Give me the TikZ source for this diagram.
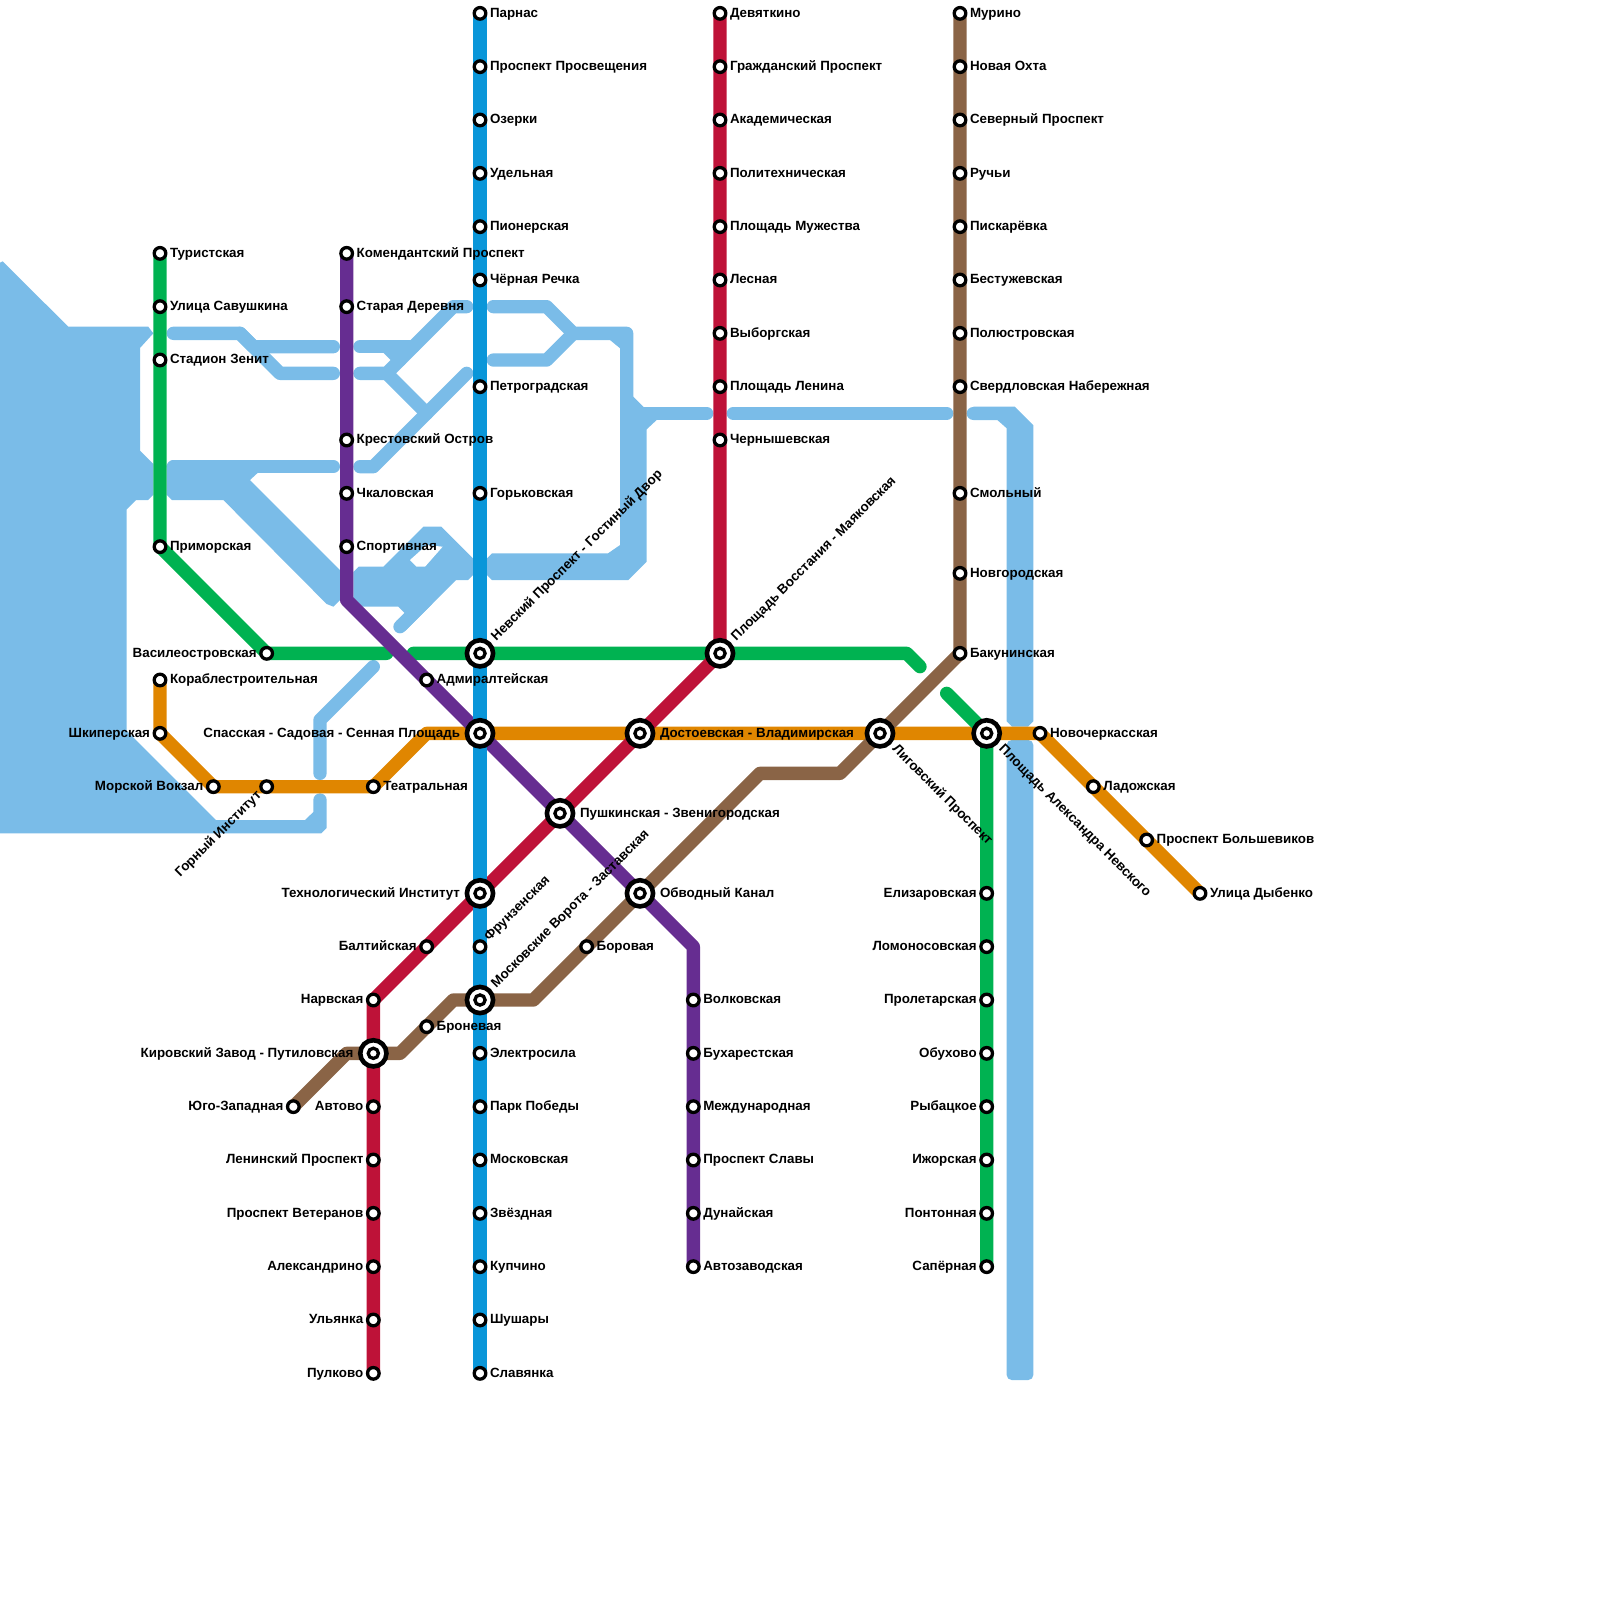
\documentclass[tikz,border=0pt]{standalone}
\usepackage{fontspec}
\setmainfont{Liberation Sans}
\usetikzlibrary{calc}
\pgfdeclarelayer{bg}
\pgfsetlayers{bg,main}
\definecolor{cwater}{HTML}{7ABCE8}
\definecolor{cblue}{HTML}{0A96D9}
\definecolor{cred}{HTML}{BE1238}
\definecolor{cbrown}{HTML}{8A6446}
\definecolor{cpurple}{HTML}{662D91}
\definecolor{cgreen}{HTML}{00B251}
\definecolor{corange}{HTML}{E08600}
\tikzset{
 stn/.style={circle,draw=black,fill=white,line width=1.65pt,minimum size=5.8pt,inner sep=0pt,outer sep=0pt},
 stni/.style={circle,draw=black,fill=white,line width=1.65pt,minimum size=5.1pt,inner sep=0pt,outer sep=0pt},
 stnx/.style={circle,draw=black,fill=white,line width=2.3pt,minimum size=13.1pt,inner sep=0pt,outer sep=0pt},
 lab/.style={font=\bfseries\fontsize{6.68pt}{8pt}\selectfont,inner sep=0pt,outer sep=0pt,text=black},
 metro/.style={line width=6.667pt,line cap=round,line join=round},
 wline/.style={draw=cwater,line width=6.667pt,line cap=round,line join=round},
 wfill/.style={fill=cwater,draw=none}
}
% station with label right / left
\newcommand\sR[4]{\node[stn](#1) at (#2,#3){}; \node[lab,anchor=base west,xshift=5pt,yshift=-1.85pt](#1t) at (#1.center){#4};}
\newcommand\sL[4]{\node[stn](#1) at (#2,#3){}; \node[lab,anchor=base east,xshift=-5pt,yshift=-1.85pt](#1t) at (#1.center){#4};}
\newcommand\xR[4]{\node[stnx](#1) at (#2,#3){}; \node[stni](#1i) at (#1.center){}; \node[lab,anchor=base west,xshift=10pt,yshift=-1.85pt](#1t) at (#1.center){#4};}
\newcommand\xL[4]{\node[stnx](#1) at (#2,#3){}; \node[stni](#1i) at (#1.center){}; \node[lab,anchor=base east,xshift=-10pt,yshift=-1.85pt](#1t) at (#1.center){#4};}
% interchange with rotated label
\newcommand\xA[5]{\node[stnx](#1) at (#2,#3){}; \node[stni](#1i) at (#1.center){}; \node[lab,anchor=base west,rotate=#4](#1t) at ($(#1.center)+(#4:10pt)+(#4-90:1.65pt)$){#5};}
\begin{document}
\begin{tikzpicture}[x=13.3333pt,y=-13.3333pt]
\useasboundingbox (0,0) rectangle (60,60);
% blue line
\sR{b1}{18}{0.5}{Парнас}
\sR{b2}{18}{2.5}{Проспект Просвещения}
\sR{b3}{18}{4.5}{Озерки}
\sR{b4}{18}{6.5}{Удельная}
\sR{b5}{18}{8.5}{Пионерская}
\sR{b6}{18}{10.5}{Чёрная Речка}
\sR{b7}{18}{14.5}{Петроградская}
\sR{b8}{18}{18.5}{Горьковская}
\xA{nev}{18}{24.5}{45}{Невский Проспект - Гостиный Двор}
\xL{sen}{18}{27.5}{Спасская - Садовая - Сенная Площадь}
\xL{tech}{18}{33.5}{Технологический Институт}
\node[stn](fru) at (18,35.5){}; \node[lab,anchor=base west,rotate=45](frut) at ($(fru.center)+(45:5pt)+(-45:1.65pt)$){Фрунзенская};
\xA{mvo}{18}{37.5}{45}{Московские Ворота - Заставская}
\sR{b9}{18}{39.5}{Электросила}
\sR{b10}{18}{41.5}{Парк Победы}
\sR{b11}{18}{43.5}{Московская}
\sR{b12}{18}{45.5}{Звёздная}
\sR{b13}{18}{47.5}{Купчино}
\sR{b14}{18}{49.5}{Шушары}
\sR{b15}{18}{51.5}{Славянка}
% red line
\sR{r1}{27}{0.5}{Девяткино}
\sR{r2}{27}{2.5}{Гражданский Проспект}
\sR{r3}{27}{4.5}{Академическая}
\sR{r4}{27}{6.5}{Политехническая}
\sR{r5}{27}{8.5}{Площадь Мужества}
\sR{r6}{27}{10.5}{Лесная}
\sR{r7}{27}{12.5}{Выборгская}
\sR{r8}{27}{14.5}{Площадь Ленина}
\sR{r9}{27}{16.5}{Чернышевская}
\xA{vos}{27}{24.5}{45}{Площадь Восстания - Маяковская}
\xR{dos}{24}{27.5}{Достоевская - Владимирская}
\xR{pus}{21}{30.5}{Пушкинская - Звенигородская}
\sL{bal}{16}{35.5}{Балтийская}
\sL{nar}{14}{37.5}{Нарвская}
\xL{kir}{14}{39.5}{Кировский Завод - Путиловская}
\sL{r10}{14}{41.5}{Автово}
\sL{r11}{14}{43.5}{Ленинский Проспект}
\sL{r12}{14}{45.5}{Проспект Ветеранов}
\sL{r13}{14}{47.5}{Александрино}
\sL{r14}{14}{49.5}{Ульянка}
\sL{r15}{14}{51.5}{Пулково}
% brown line
\sR{k1}{36}{0.5}{Мурино}
\sR{k2}{36}{2.5}{Новая Охта}
\sR{k3}{36}{4.5}{Северный Проспект}
\sR{k4}{36}{6.5}{Ручьи}
\sR{k5}{36}{8.5}{Пискарёвка}
\sR{k6}{36}{10.5}{Бестужевская}
\sR{k7}{36}{12.5}{Полюстровская}
\sR{k8}{36}{14.5}{Свердловская Набережная}
\sR{k9}{36}{18.5}{Смольный}
\sR{k10}{36}{21.5}{Новгородская}
\sR{k11}{36}{24.5}{Бакунинская}
\node[stnx](lig) at (33,27.5){}; \node[stni](ligi) at (lig.center){}; \node[lab,anchor=base west,rotate=-45](ligt) at ($(lig.center)+(-45:10pt)+(-135:1.65pt)$){Лиговский Проспект};
\xR{obv}{24}{33.5}{Обводный Канал}
\sR{bor}{22}{35.5}{Боровая}
\sR{bro}{16}{38.5}{Броневая}
\sL{yug}{11}{41.5}{Юго-Западная}
% purple line
\sR{p1}{13}{9.5}{Комендантский Проспект}
\sR{p2}{13}{11.5}{Старая Деревня}
\sR{p3}{13}{16.5}{Крестовский Остров}
\sR{p4}{13}{18.5}{Чкаловская}
\sR{p5}{13}{20.5}{Спортивная}
\sR{adm}{16}{25.5}{Адмиралтейская}
\sR{p6}{26}{37.5}{Волковская}
\sR{p7}{26}{39.5}{Бухарестская}
\sR{p8}{26}{41.5}{Международная}
\sR{p9}{26}{43.5}{Проспект Славы}
\sR{p10}{26}{45.5}{Дунайская}
\sR{p11}{26}{47.5}{Автозаводская}
% green line
\sR{g1}{6}{9.5}{Туристская}
\sR{g2}{6}{11.5}{Улица Савушкина}
\sR{g3}{6}{13.5}{Стадион Зенит}
\sR{g4}{6}{20.5}{Приморская}
\sL{vas}{10}{24.5}{Василеостровская}
\node[stnx](ale) at (37,27.5){}; \node[stni](alei) at (ale.center){}; \node[lab,anchor=base west,rotate=-45](alet) at ($(ale.center)+(-45:10pt)+(-135:1.65pt)$){Площадь Александра Невского};
\sL{g5}{37}{33.5}{Елизаровская}
\sL{g6}{37}{35.5}{Ломоносовская}
\sL{g7}{37}{37.5}{Пролетарская}
\sL{g8}{37}{39.5}{Обухово}
\sL{g9}{37}{41.5}{Рыбацкое}
\sL{g10}{37}{43.5}{Ижорская}
\sL{g11}{37}{45.5}{Понтонная}
\sL{g12}{37}{47.5}{Сапёрная}
% orange line
\sR{o1}{6}{25.5}{Кораблестроительная}
\sL{o2}{6}{27.5}{Шкиперская}
\sL{o3}{8}{29.5}{Морской Вокзал}
\node[stn](gor) at (10,29.5){}; \node[lab,anchor=base east,rotate=45](gort) at ($(gor.center)+(225:5pt)+(-45:1.65pt)$){Горный Институт};
\sR{o4}{14}{29.5}{Театральная}
\sR{o5}{39}{27.5}{Новочеркасская}
\sR{o6}{41}{29.5}{Ладожская}
\sR{o7}{43}{31.5}{Проспект Большевиков}
\sR{o8}{45}{33.5}{Улица Дыбенко}
% bends
\coordinate (kb1) at (31.5,29);
\coordinate (kb2) at (28.5,29);
\coordinate (kb3) at (20,37.5);
\coordinate (kb4) at (17,37.5);
\coordinate (kb5) at (15,39.5);
\coordinate (kb6) at (13,39.5);
\coordinate (pb1) at (13,22.5);
\coordinate (pb2) at (26,35.5);
\coordinate (gb1) at (14.5,24.5);
\coordinate (gb2) at (15.5,24.5);
\coordinate (gb3) at (34,24.5);
\coordinate (gb4) at (34.5,25);
\coordinate (gb5) at (35.5,26);
\coordinate (ob1) at (16,27.5);
\begin{pgfonlayer}{bg}
% ---- water
\fill[wfill] (0,9.85) -- (0.1,9.8) -- (0.15,9.85) -- (2.56,12.25) -- (5.56,12.25) -- (5.75,12.5) -- (5.25,13.05) -- (5.25,16.9) -- (5.75,17.4) -- (5.75,18.55) -- (5.55,18.75) -- (5.1,18.75) -- (4.75,19.1) -- (4.75,27.4) -- (8.1,30.75) -- (11.44,30.75) -- (11.75,30.45) -- (11.75,30) arc[start angle=180,end angle=360,radius=0.25] -- (12.25,31.05) -- (12.05,31.25) -- (0,31.25) -- cycle;
\draw[wline] (6.5,12.5) -- (9,12.5) -- (9.5,13) -- (12.5,13);
\draw[wline] (9,12.5) -- (10.5,14) -- (12.5,14);
\draw[wline] (13.5,13) -- (15.5,13);
\draw[wline] (14.5,13) -- (15,13.5);
\draw[wline] (17.5,11.5) -- (17,11.5) -- (14.5,14) -- (13.5,14);
\draw[wline] (14.5,14) -- (16,15.5);
\draw[wline] (17.5,14) -- (14,17.5) -- (13.5,17.5);
\draw[wline] (6.5,17.5) -- (12.5,17.5);
\fill[wfill] (6.25,17.45) -- (6.45,17.25) -- (9.7,17.25) -- (9.7,17.7) -- (9.375,18) -- (12.75,21.375) -- (12.75,22.5) -- (12.5,22.75) -- (12.25,22.65) -- (8.375,18.75) -- (6.45,18.75) -- (6.25,18.55) -- cycle;
\fill[wfill] (13.25,21.45) -- (13.45,21.25) -- (14.375,21.25) -- (15.875,19.75) -- (16.55,19.75) -- (17.75,20.95) -- (17.75,21.55) -- (17.55,21.75) -- (17.1,21.75) -- (15.2,23.65) -- (14.85,23.3) -- (15.19,23) -- (14.94,22.75) -- (13.6,22.75) -- (13.25,22.4) -- cycle;
\draw[wline] (16,22.5) -- (15,23.5);
\fill[white] (15.375,21) -- (16,20.44) -- (16.6,20.5) -- (15.94,21.25) -- (15.625,21.25) -- cycle;
\draw[wline] (18.5,11.5) -- (20.5,11.5) -- (21.5,12.5) -- (23.5,12.5) -- (23.5,16);
\draw[wline] (18.5,13.5) -- (20.5,13.5) -- (21.5,12.5);
\fill[wfill] (22.875,12.75) -- (23.25,12.75) -- (23.25,13.06) -- cycle;
\draw[wline] (24,15.5) -- (26.5,15.5);
\fill[wfill] (23.25,14.75) -- (23.75,14.875) -- (24.125,15.25) -- (24.625,15.75) -- (24.25,16.1) -- (24.25,21.06) -- (23.56,21.75) -- (18.45,21.75) -- (18.25,21.55) -- (18.25,20.95) -- (18.45,20.75) -- (22.8,20.75) -- (23.25,20.44) -- cycle;
\draw[wline] (27.5,15.5) -- (35.5,15.5);
\draw[wline] (36.5,15.5) -- (37.5,15.5);
\fill[wfill] (36.5,15.25) -- (38.05,15.25) -- (38.75,15.95) -- (38.75,27.05) -- (38.55,27.25) -- (37.95,27.25) -- (37.75,27.05) -- (37.75,16.06) -- (37.4,15.75) -- (36.5,15.75) -- cycle;
\fill[wfill,rounded corners=2.5pt] (37.75,27.75) rectangle (38.75,51.75);
\draw[wline] (14,25) -- (12,27) -- (12,29);
% ---- metro lines
\draw[metro,corange] (o1.center) -- (o2.center) -- (o3.center) -- (gor.center) -- (o4.center) -- (ob1) -- (sen.center) -- (dos.center) -- (lig.center) -- (ale.center) -- (o5.center) -- (o6.center) -- (o7.center) -- (o8.center);
\draw[metro,cgreen] (g1.center) -- (g2.center) -- (g3.center) -- (g4.center) -- (vas.center) -- (gb1);
\draw[metro,cgreen] (gb2) -- (nev.center) -- (vos.center) -- (gb3) -- (gb4);
\draw[metro,cgreen] (gb5) -- (ale.center) -- (g5.center) -- (g6.center) -- (g7.center) -- (g8.center) -- (g9.center) -- (g10.center) -- (g11.center) -- (g12.center);
\draw[metro,cbrown] (k1.center) -- (k2.center) -- (k3.center) -- (k4.center) -- (k5.center) -- (k6.center) -- (k7.center) -- (k8.center) -- (k9.center) -- (k10.center) -- (k11.center) -- (lig.center) -- (kb1) -- (kb2) -- (obv.center) -- (bor.center) -- (kb3) -- (mvo.center) -- (kb4) -- (bro.center) -- (kb5) -- (kir.center) -- (kb6) -- (yug.center);
\draw[metro,cred] (r1.center) -- (r2.center) -- (r3.center) -- (r4.center) -- (r5.center) -- (r6.center) -- (r7.center) -- (r8.center) -- (r9.center) -- (vos.center) -- (dos.center) -- (pus.center) -- (tech.center) -- (bal.center) -- (nar.center) -- (kir.center) -- (r10.center) -- (r11.center) -- (r12.center) -- (r13.center) -- (r14.center) -- (r15.center);
\draw[metro,cpurple] (p1.center) -- (p2.center) -- (p3.center) -- (p4.center) -- (p5.center) -- (pb1) -- (adm.center) -- (sen.center) -- (pus.center) -- (obv.center) -- (pb2) -- (p6.center) -- (p7.center) -- (p8.center) -- (p9.center) -- (p10.center) -- (p11.center);
\draw[metro,cblue] (b1.center) -- (b2.center) -- (b3.center) -- (b4.center) -- (b5.center) -- (b6.center) -- (b7.center) -- (b8.center) -- (nev.center) -- (sen.center) -- (tech.center) -- (fru.center) -- (mvo.center) -- (b9.center) -- (b10.center) -- (b11.center) -- (b12.center) -- (b13.center) -- (b14.center) -- (b15.center);
\end{pgfonlayer}
\end{tikzpicture}
\end{document}
